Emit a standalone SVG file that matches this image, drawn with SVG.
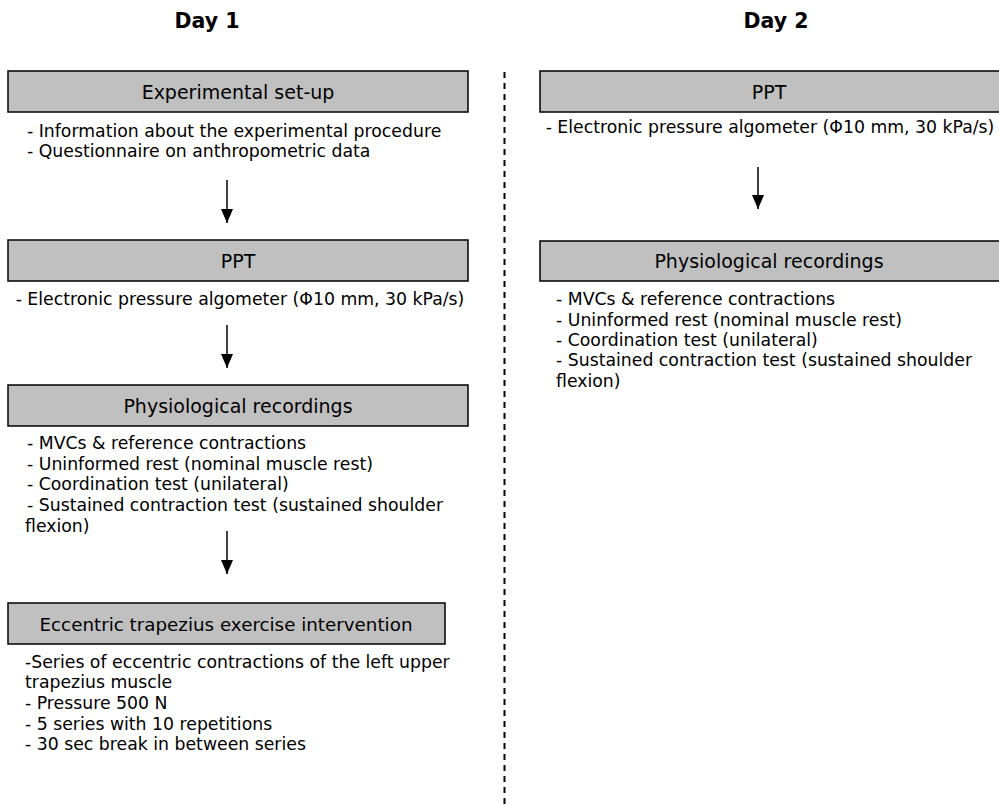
<svg xmlns="http://www.w3.org/2000/svg" width="999" height="805" viewBox="0 0 999 805">
<style>
.box{fill:#c0c0c0;stroke:#000;stroke-width:1.5}
.day{font-family:"DejaVu Sans","Liberation Sans",sans-serif;font-size:20.5px;font-weight:bold;fill:#000;text-anchor:middle}
.ttl{font-family:"DejaVu Sans","Liberation Sans",sans-serif;font-size:19px;fill:#000;text-anchor:middle}
.txt{font-family:"DejaVu Sans","Liberation Sans",sans-serif;font-size:17.3px;fill:#000}
.ctr{text-anchor:middle}
.arr{stroke:#000;stroke-width:1.5;fill:none;marker-end:url(#ah)}
</style>
<defs>
<marker id="ah" markerWidth="14" markerHeight="12" refX="14" refY="6" orient="auto" markerUnits="userSpaceOnUse" viewBox="0 0 14 12">
<path d="M0,0 L14,6 L0,12 Z" fill="#000"/>
</marker>
</defs>
<rect width="999" height="805" fill="#fff"/>
<text class="day" x="207" y="28">Day 1</text>
<text class="day" x="776" y="28">Day 2</text>
<line x1="504.5" y1="72" x2="504.5" y2="805" stroke="#000" stroke-width="2" stroke-dasharray="6,5"/>
<g id="connectors">
<line class="arr" x1="227" y1="180" x2="227" y2="223"/>
<line class="arr" x1="227" y1="325" x2="227" y2="368"/>
<line class="arr" x1="227" y1="531" x2="227" y2="574"/>
<line class="arr" x1="758" y1="167" x2="758" y2="209"/>
</g>
<g id="d1-setup">
<rect class="box" x="8" y="71" width="460" height="41"/>
<text class="ttl" x="238" y="98.5">Experimental set-up</text>
<text class="txt" x="27" y="137">- Information about the experimental procedure</text>
<text class="txt" x="27" y="157">- Questionnaire on anthropometric data</text>
</g>
<g id="d1-ppt">
<rect class="box" x="8" y="240" width="460" height="41"/>
<text class="ttl" x="238" y="267.5">PPT</text>
<text class="txt ctr" x="240" y="305">- Electronic pressure algometer (Φ10 mm, 30 kPa/s)</text>
</g>
<g id="d1-phys">
<rect class="box" x="8" y="385" width="460" height="41"/>
<text class="ttl" x="238" y="412.5">Physiological recordings</text>
<text class="txt" x="27" y="449">- MVCs &amp; reference contractions</text>
<text class="txt" x="27" y="470">- Uninformed rest (nominal muscle rest)</text>
<text class="txt" x="27" y="490">- Coordination test (unilateral)</text>
<text class="txt" x="27" y="511">- Sustained contraction test (sustained shoulder</text>
<text class="txt" x="25" y="532">flexion)</text>
</g>
<g id="d1-ecc">
<rect class="box" x="8" y="603" width="437" height="41"/>
<text class="ttl" x="226" y="631" style="font-size:18.3px">Eccentric trapezius exercise intervention</text>
<text class="txt" x="25" y="668">-Series of eccentric contractions of the left upper</text>
<text class="txt" x="25" y="688">trapezius muscle</text>
<text class="txt" x="25" y="709">- Pressure 500 N</text>
<text class="txt" x="25" y="730">- 5 series with 10 repetitions</text>
<text class="txt" x="25" y="750">- 30 sec break in between series</text>
</g>
<g id="d2-ppt">
<rect class="box" x="540" y="71" width="462" height="41"/>
<text class="ttl" x="769" y="98.5">PPT</text>
<text class="txt ctr" x="770" y="133">- Electronic pressure algometer (Φ10 mm, 30 kPa/s)</text>
</g>
<g id="d2-phys">
<rect class="box" x="540" y="241" width="462" height="40"/>
<text class="ttl" x="769" y="268">Physiological recordings</text>
<text class="txt" x="556" y="305">- MVCs &amp; reference contractions</text>
<text class="txt" x="556" y="326">- Uninformed rest (nominal muscle rest)</text>
<text class="txt" x="556" y="346">- Coordination test (unilateral)</text>
<text class="txt" x="556" y="366">- Sustained contraction test (sustained shoulder</text>
<text class="txt" x="556" y="387">flexion)</text>
</g>
</svg>
